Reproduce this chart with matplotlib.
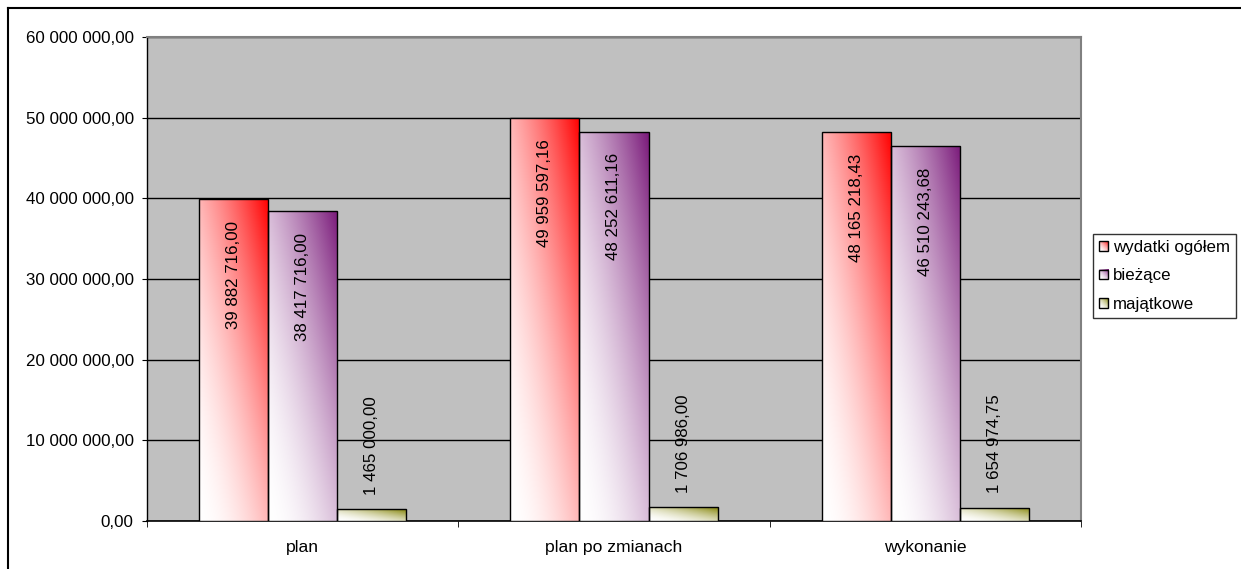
import numpy as np
import matplotlib
matplotlib.use("Agg")
import matplotlib.pyplot as plt
from matplotlib.patches import Rectangle
from matplotlib.colors import to_rgb
from matplotlib.ticker import FuncFormatter, MultipleLocator
from matplotlib.legend_handler import HandlerBase
from matplotlib.image import BboxImage
from matplotlib.transforms import Bbox, TransformedBbox

categories = ["plan", "plan po zmianach", "wykonanie"]
series_names = ["wydatki ogółem", "bieżące", "majątkowe"]
wydatki_ogolem = [39882716.00, 49959597.16, 48165218.43]
biezace = [38417716.00, 48252611.16, 46510243.68]
majatkowe = [1465000.00, 1706986.00, 1654974.75]
series = [wydatki_ogolem, biezace, majatkowe]
colors = ["#FF0000", "#7A1A7A", "#808000"]

plt.rcParams['font.family'] = ['Liberation Sans', 'DejaVu Sans']
FS = 12.2

W, H = 1241, 569
fig = plt.figure(figsize=(W / 100, H / 100), dpi=100)
fig.patch.set_facecolor("white")

# outer border (left and top visible)
fig.add_artist(plt.Line2D([7.5 / W, 7.5 / W], [0, 1 - 7.5 / H], color="black", lw=1.5, transform=fig.transFigure))
fig.add_artist(plt.Line2D([7.5 / W, 1], [1 - 7.5 / H, 1 - 7.5 / H], color="black", lw=1.5, transform=fig.transFigure))

L, R, T, B = 147, 1081, 37, 521
ax = fig.add_axes([L / W, 1 - B / H, (R - L) / W, (B - T) / H])
ax.set_facecolor("#C0C0C0")
ax.set_xlim(0, len(categories))
ax.set_ylim(0, 60000000)
ax.yaxis.set_major_locator(MultipleLocator(10000000))


def fmt(v, pos=None):
    s = f"{v:,.2f}"
    return s.replace(",", " ").replace(".", ",")


ax.yaxis.set_major_formatter(FuncFormatter(fmt))
ax.grid(axis="y", color="black", lw=1, zorder=1)
ax.set_axisbelow(True)
for s in ["top", "right"]:
    ax.spines[s].set_color("#808080")
    ax.spines[s].set_linewidth(1.5)
ax.spines["left"].set_color("black")
ax.spines["bottom"].set_color("black")
ax.spines["left"].set_linewidth(1)
ax.spines["bottom"].set_linewidth(1.2)

ax.set_xticks(np.arange(len(categories)) + 0.5)
ax.set_xticklabels(categories)
ax.set_xticks(np.arange(len(categories) + 1), minor=True)
ax.tick_params(axis="x", which="major", length=0, pad=14, labelsize=12.6)
ax.tick_params(axis="x", which="minor", length=4, color="black")
ax.tick_params(axis="y", length=3.6, labelsize=FS, pad=6, direction="out")

bw = 0.222
offsets = [-bw, 0, bw]


def gradient_img(color, n=96):
    c = np.array(to_rgb(color))
    u = np.linspace(0, 1, n)[None, :]
    v = np.linspace(0, 1, n)[:, None]
    t = ((u + v) / 2.0) ** 1.8
    img = (1 - t)[..., None] * np.ones(3) + t[..., None] * c
    return img


for si, (vals, col) in enumerate(zip(series, colors)):
    img = gradient_img(col)
    for ci, v in enumerate(vals):
        x0 = ci + 0.5 + offsets[si] - bw / 2
        rect = Rectangle((x0, 0), bw, v, facecolor="none", edgecolor="black", lw=1, zorder=4)
        ax.add_patch(rect)
        im = ax.imshow(img, extent=(x0, x0 + bw, 0, v), origin="lower", aspect="auto", zorder=3, interpolation="bilinear")
        im.set_clip_path(rect)
        label = fmt(v)
        xc = x0 + bw / 2
        if v > 10000000:
            ax.annotate(label, (xc, v), xytext=(0, -15.5), textcoords="offset points",
                        rotation=90, ha="center", va="top", fontsize=FS, zorder=5)
        else:
            ax.annotate(label, (xc, v), xytext=(0, 10.5), textcoords="offset points",
                        rotation=90, ha="center", va="bottom", fontsize=FS, zorder=5)

ax.set_xlim(0, len(categories))


class GradHandler(HandlerBase):
    def create_artists(self, legend, orig_handle, xdescent, ydescent, width, height, fontsize, trans):
        col = orig_handle.get_gid()
        s = min(width, height)
        x0 = -xdescent + (width - s) / 2
        y0 = -ydescent + (height - s) / 2
        bb = Bbox.from_bounds(x0, y0, s, s)
        tbb = TransformedBbox(bb, trans)
        bim = BboxImage(tbb, interpolation="bilinear", origin="lower")
        bim.set_data(gradient_img(col, 16))
        r = Rectangle((x0, y0), s, s, facecolor="none", edgecolor="black", lw=1, transform=trans)
        return [bim, r]


handles = []
for c in colors:
    h = Rectangle((0, 0), 1, 1)
    h.set_gid(c)
    handles.append(h)
leg = fig.legend(handles, series_names, loc="upper left", bbox_to_anchor=(1093 / W, 1 - 234 / H),
                 frameon=True, fancybox=False, edgecolor="black", fontsize=FS,
                 handlelength=0.55, handleheight=0.55, handletextpad=0.3, borderpad=0.35,
                 labelspacing=0.8, borderaxespad=0,
                 handler_map={Rectangle: GradHandler()})
leg.get_frame().set_linewidth(1)

fig.savefig("out.png", dpi=100)
